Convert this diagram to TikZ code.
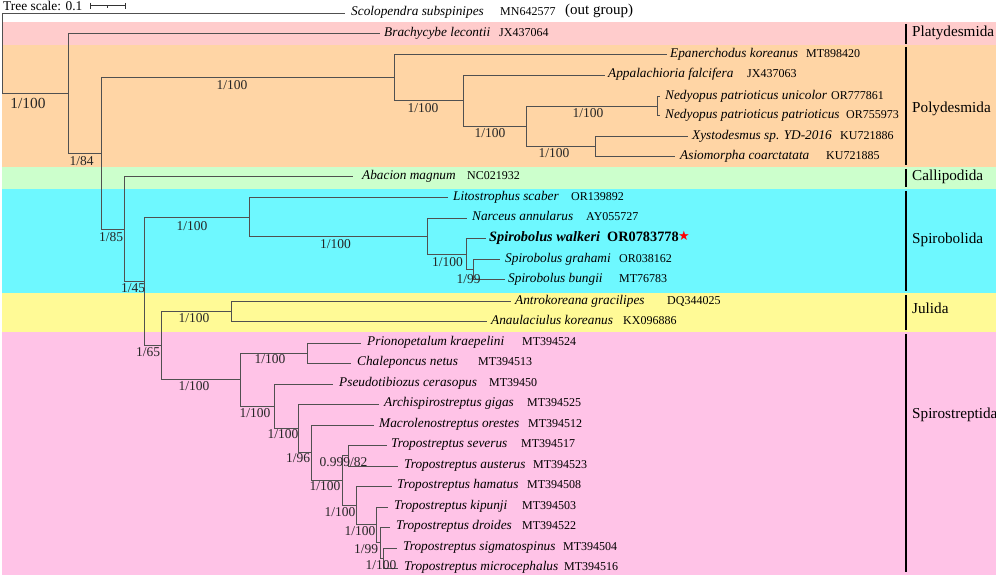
\documentclass[tikz,border=0pt]{standalone}
\usepackage{fontspec}
\setmainfont{Liberation Serif}
\newfontfamily\symfont{DejaVu Sans}
\definecolor{platy}{HTML}{FFCCCC}
\definecolor{poly}{HTML}{FFD5A5}
\definecolor{calli}{HTML}{CCFFCC}
\definecolor{spirob}{HTML}{6EF8FF}
\definecolor{julid}{HTML}{FFFA96}
\definecolor{spirost}{HTML}{FFC3E7}
\definecolor{linegray}{HTML}{505050}
\begin{document}
\begin{tikzpicture}[x=1pt,y=-1pt,
  br/.style={draw=linegray, line width=1pt},
  tax/.style={anchor=mid west, inner sep=0pt, font=\fontsize{13.3}{15}\selectfont\itshape},
  acc/.style={anchor=mid west, inner sep=0pt, font=\fontsize{12}{14}\selectfont},
  sup/.style={inner sep=0pt, font=\fontsize{13.5}{15}\selectfont, text=black!85},
  clade/.style={anchor=mid west, inner sep=0pt, font=\fontsize{15.2}{17}\selectfont},
  cbar/.style={line width=1.8pt, draw=black}]
\useasboundingbox (0,0) rectangle (996,577);
% bands
\fill[platy]   (2,22)  rectangle (996,45);
\fill[poly]    (2,45)  rectangle (996,167);
\fill[calli]   (2,167) rectangle (996,189);
\fill[spirob]  (2,189) rectangle (996,293);
\fill[julid]   (2,293) rectangle (996,332);
\fill[spirost] (2,332) rectangle (996,575);
% tree scale
\node[anchor=mid west, inner sep=0pt, font=\fontsize{13.4}{15}\selectfont] (tscale) at (3,8) {Tree scale: 0.1};
\coordinate (sbl) at (90,6);
\coordinate (sbr) at (125,6);
\draw[black!80, line width=1pt] (sbl) -- (sbr);
\draw[black!80, line width=1pt] (90,3) -- (90,9) (125,3) -- (125,9) (107.5,6) -- (107.5,8.5);
% tips
\coordinate (sco) at (345,13.5);
\coordinate (bra) at (380,34);
\coordinate (epa) at (667,55);
\coordinate (app) at (605,75.5);
\coordinate (nedu) at (660,97);
\coordinate (nedp) at (660,116);
\coordinate (xys) at (688,137);
\coordinate (asi) at (675,157);
\coordinate (aba) at (353,177);
\coordinate (lit) at (448,198);
\coordinate (nar) at (467,218.5);
\coordinate (wal) at (486,239);
\coordinate (gra) at (500,260);
\coordinate (bun) at (505,280);
\coordinate (ant) at (511,302);
\coordinate (ana) at (487,322);
\coordinate (pri) at (361,343);
\coordinate (cha) at (351,363);
\coordinate (pse) at (333,384);
\coordinate (arc) at (379,404);
\coordinate (mac) at (374,425);
\coordinate (sev) at (387,445);
\coordinate (aus) at (398,466);
\coordinate (ham) at (392,486);
\coordinate (kip) at (388,507);
\coordinate (dro) at (390,527);
\coordinate (sig) at (397,548);
\coordinate (mic) at (398,568);
% internal nodes
\coordinate (root) at (2.5,53.7);
\coordinate (nA) at (68,93.8);
\coordinate (nB) at (101,153.6);
\coordinate (nP1) at (394,78);
\coordinate (nP2) at (463.5,101);
\coordinate (nP3) at (526.5,126.7);
\coordinate (nP4) at (595,147);
\coordinate (nNED) at (657,106.5);
\coordinate (nC) at (124,229.3);
\coordinate (nD) at (144,281.6);
\coordinate (nS1) at (249,217.4);
\coordinate (nS2) at (427,236.7);
\coordinate (nS3) at (466,254.5);
\coordinate (nS4) at (473.5,270);
\coordinate (nE) at (161,345.7);
\coordinate (nJ) at (231,312);
\coordinate (nF) at (240,379.5);
\coordinate (nG) at (307,353);
\coordinate (nH) at (274,406);
\coordinate (nI) at (298,428.4);
\coordinate (nS) at (311,452.7);
\coordinate (nR) at (342,480.4);
\coordinate (nQ) at (348,455.5);
\coordinate (nN) at (356,505.4);
\coordinate (nK) at (376,524.75);
\coordinate (nL) at (380,542.5);
\coordinate (nM) at (383,558);
% branches
\draw[br] (root) |- (sco);  \draw[br] (root) |- (nA);
\draw[br] (nA) |- (bra);    \draw[br] (nA) |- (nB);
\draw[br] (nB) |- (nP1);    \draw[br] (nB) |- (nC);
\draw[br] (nP1) |- (epa);   \draw[br] (nP1) |- (nP2);
\draw[br] (nP2) |- (app);   \draw[br] (nP2) |- (nP3);
\draw[br] (nP3) |- (nNED);  \draw[br] (nP3) |- (nP4);
\draw[br] (nNED) |- (nedu); \draw[br] (nNED) |- (nedp);
\draw[br] (nP4) |- (xys);   \draw[br] (nP4) |- (asi);
\draw[br] (nC) |- (aba);    \draw[br] (nC) |- (nD);
\draw[br] (nD) |- (nS1);    \draw[br] (nD) |- (nE);
\draw[br] (nS1) |- (lit);   \draw[br] (nS1) |- (nS2);
\draw[br] (nS2) |- (nar);   \draw[br] (nS2) |- (nS3);
\draw[br] (nS3) |- (wal);   \draw[br] (nS3) |- (nS4);
\draw[br] (nS4) |- (gra);   \draw[br] (nS4) |- (bun);
\draw[br] (nE) |- (nJ);     \draw[br] (nE) |- (nF);
\draw[br] (nJ) |- (ant);    \draw[br] (nJ) |- (ana);
\draw[br] (nF) |- (nG);     \draw[br] (nF) |- (nH);
\draw[br] (nG) |- (pri);    \draw[br] (nG) |- (cha);
\draw[br] (nH) |- (pse);    \draw[br] (nH) |- (nI);
\draw[br] (nI) |- (arc);    \draw[br] (nI) |- (nS);
\draw[br] (nS) |- (mac);    \draw[br] (nS) |- (nR);
\draw[br] (nR) |- (nQ);     \draw[br] (nR) |- (nN);
\draw[br] (nQ) |- (sev);    \draw[br] (nQ) |- (aus);
\draw[br] (nN) |- (ham);    \draw[br] (nN) |- (nK);
\draw[br] (nK) |- (kip);    \draw[br] (nK) |- (nL);
\draw[br] (nL) |- (dro);    \draw[br] (nL) |- (nM);
\draw[br] (nM) |- (sig);    \draw[br] (nM) |- (mic);
% taxon names
\node[tax] (Tsco) at (351,13.5) {Scolopendra subspinipes};
\node[acc] (Asco) at (500,13.5) {MN642577};
\node[anchor=mid west, inner sep=0pt, font=\fontsize{15}{17}\selectfont] (outg) at (565,12.5) {(out group)};
\node[tax] (Tbra) at (384,34) {Brachycybe lecontii};
\node[acc] (Abra) at (499,34) {JX437064};
\node[tax] (Tepa) at (670,55) {Epanerchodus koreanus};
\node[acc] (Aepa) at (806,55) {MT898420};
\node[tax] (Tapp) at (608,75.5) {Appalachioria falcifera};
\node[acc] (Aapp) at (747,75.5) {JX437063};
\node[tax] (Tnedu) at (665,97) {Nedyopus patrioticus unicolor};
\node[acc] (Anedu) at (831,97) {OR777861};
\node[tax] (Tnedp) at (665,116) {Nedyopus patrioticus patrioticus};
\node[acc] (Anedp) at (846,116) {OR755973};
\node[tax] (Txys) at (692,137) {Xystodesmus sp. YD-2016};
\node[acc] (Axys) at (840,137) {KU721886};
\node[tax] (Tasi) at (680,157) {Asiomorpha coarctatata};
\node[acc] (Aasi) at (826,157) {KU721885};
\node[tax] (Taba) at (362,177) {Abacion magnum};
\node[acc] (Aaba) at (467,177) {NC021932};
\node[tax] (Tlit) at (453,198) {Litostrophus scaber};
\node[acc] (Alit) at (571,198) {OR139892};
\node[tax] (Tnar) at (472,218.5) {Narceus annularus};
\node[acc] (Anar) at (586,218.5) {AY055727};
\node[tax, font=\fontsize{14.3}{16}\selectfont\bfseries\itshape] (Twal) at (489,239) {Spirobolus walkeri};
\node[acc, font=\fontsize{14.3}{16}\selectfont\bfseries] (Awal) at (607,239) {OR0783778};
\node[anchor=mid west, inner sep=0pt, text=red, font=\symfont\fontsize{13}{14}\selectfont] (star) at (678,238.5) {★};
\node[tax] (Tgra) at (505,260) {Spirobolus grahami};
\node[acc] (Agra) at (619,260) {OR038162};
\node[tax] (Tbun) at (508,280) {Spirobolus bungii};
\node[acc] (Abun) at (619,280) {MT76783};
\node[tax] (Tant) at (515,302) {Antrokoreana gracilipes};
\node[acc] (Aant) at (667,302) {DQ344025};
\node[tax] (Tana) at (491,322) {Anaulaciulus koreanus};
\node[acc] (Aana) at (623,322) {KX096886};
\node[tax] (Tpri) at (367,343) {Prionopetalum kraepelini};
\node[acc] (Apri) at (522,343) {MT394524};
\node[tax] (Tcha) at (357,363) {Chaleponcus netus};
\node[acc] (Acha) at (478,363) {MT394513};
\node[tax] (Tpse) at (339,384) {Pseudotibiozus cerasopus};
\node[acc] (Apse) at (489,384) {MT39450};
\node[tax] (Tarc) at (384,404) {Archispirostreptus gigas};
\node[acc] (Aarc) at (527,404) {MT394525};
\node[tax] (Tmac) at (379,425) {Macrolenostreptus orestes};
\node[acc] (Amac) at (528,425) {MT394512};
\node[tax] (Tsev) at (391,445) {Tropostreptus severus};
\node[acc] (Asev) at (521,445) {MT394517};
\node[tax] (Taus) at (404,466) {Tropostreptus austerus};
\node[acc] (Aaus) at (533,466) {MT394523};
\node[tax] (Tham) at (397,486) {Tropostreptus hamatus};
\node[acc] (Aham) at (527,486) {MT394508};
\node[tax] (Tkip) at (394,507) {Tropostreptus kipunji};
\node[acc] (Akip) at (522,507) {MT394503};
\node[tax] (Tdro) at (396,527) {Tropostreptus droides};
\node[acc] (Adro) at (522,527) {MT394522};
\node[tax] (Tsig) at (403,548) {Tropostreptus sigmatospinus};
\node[acc] (Asig) at (563,548) {MT394504};
\node[tax] (Tmic) at (404,568) {Tropostreptus microcephalus};
\node[acc] (Amic) at (564,568) {MT394516};
% support values
\node[sup, font=\fontsize{15.4}{17}\selectfont] (sA) at (28,103) {1/100};
\node[sup] (sB) at (81.5,161) {1/84};
\node[sup] (sP1) at (232,85) {1/100};
\node[sup] (sC) at (111,237) {1/85};
\node[sup] (sP2) at (423,108) {1/100};
\node[sup] (sP3) at (490,133) {1/100};
\node[sup] (sNED) at (588,113) {1/100};
\node[sup] (sP4) at (554,153) {1/100};
\node[sup] (sD) at (133,288) {1/45};
\node[sup] (sS1) at (192,226) {1/100};
\node[sup] (sS2) at (335.5,244) {1/100};
\node[sup] (sS3) at (447.5,262) {1/100};
\node[sup] (sS4) at (468.5,279) {1/99};
\node[sup] (sE) at (148,352) {1/65};
\node[sup] (sJ) at (194,318) {1/100};
\node[sup] (sF) at (194,386) {1/100};
\node[sup] (sG) at (270,359) {1/100};
\node[sup] (sH) at (255,413) {1/100};
\node[sup] (sI) at (283,434) {1/100};
\node[sup] (sS) at (298,458) {1/96};
\node[sup] (sR) at (325,486) {1/100};
\node[sup] (sQ) at (343.5,462) {0.999/82};
\node[sup] (sN) at (340,512) {1/100};
\node[sup] (sK) at (360,531) {1/100};
\node[sup] (sL) at (366,549) {1/99};
\node[sup] (sM) at (381,565) {1/100};
% clade bars and labels
\draw[cbar] (906,24) -- (906,44);
\draw[cbar] (906,47) -- (906,165);
\draw[cbar] (906,169) -- (906,187);
\draw[cbar] (906,191) -- (906,291);
\draw[cbar] (906,295) -- (906,330);
\draw[cbar] (906,334) -- (906,572);
\node[clade] (Lplaty) at (912,34) {Platydesmida};
\node[clade] (Lpoly) at (912,110) {Polydesmida};
\node[clade] (Lcalli) at (912,178) {Callipodida};
\node[clade] (Lspirob) at (912,241) {Spirobolida};
\node[clade] (Ljul) at (912,311) {Julida};
\node[clade] (Lspirost) at (912,416) {Spirostreptida};
\end{tikzpicture}
\end{document}
